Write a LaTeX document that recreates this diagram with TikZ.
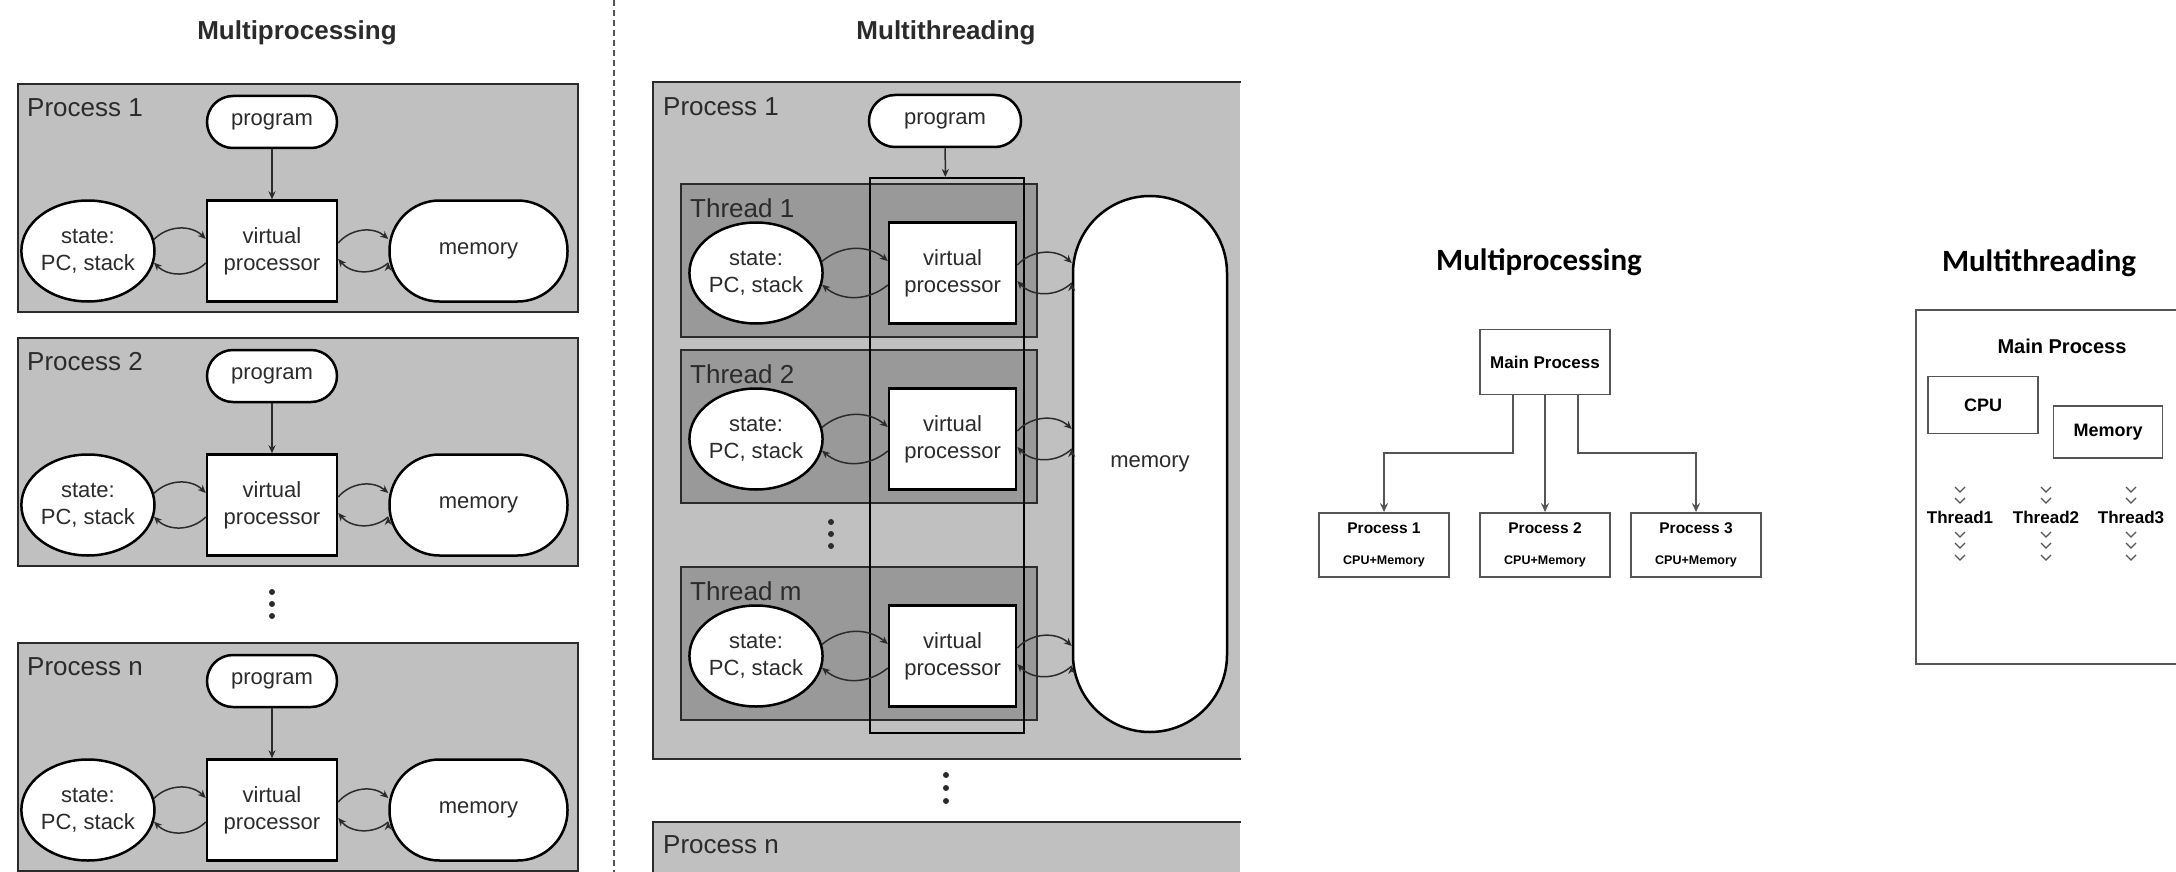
\documentclass[tikz,border=0pt]{standalone}
\usepackage{fontspec}
\setmainfont{Liberation Sans}
\newfontfamily\carlito{Carlito}
\usetikzlibrary{arrows.meta,positioning,shapes.geometric}

\definecolor{procgray}{HTML}{C0C0C0}
\definecolor{threadgray}{HTML}{999999}
\definecolor{ink}{HTML}{2B2B2B}
\definecolor{rline}{HTML}{555555}

\begin{document}
\begin{tikzpicture}[x=1pt,y=-1pt,>={Stealth[length=8pt,width=7pt]},
    heading/.style={font=\bfseries\fontsize{26}{30}\selectfont,text=ink},
    pbox/.style={fill=procgray,draw=ink,line width=2pt,anchor=north west,inner sep=0pt},
    tbox/.style={fill=threadgray,draw=ink,line width=2pt,anchor=north west,inner sep=0pt,
      minimum width=356pt,minimum height=153pt},
    plabel/.style={anchor=west,inner sep=0pt,text=ink,font=\fontsize{26}{30}\selectfont},
    blob/.style={fill=white,draw=black,line width=2.5pt,text=ink,align=center,inner sep=0pt,
      font=\fontsize{22}{27}\selectfont},
    prog/.style={blob,rounded corners=26pt,minimum width=130pt,minimum height=52pt},
    vproc/.style={blob,minimum width=130pt,minimum height=101pt},
    stnode/.style={blob,ellipse,minimum width=126pt,minimum height=101pt},
    mem/.style={blob,rounded corners=50pt,minimum width=178pt,minimum height=101pt},
    flow/.style={->,line width=1.5pt,draw=ink},
    rtitle/.style={font=\carlito\bfseries\fontsize{31}{36}\selectfont},
    rbox/.style={draw=rline,line width=1.8pt,align=center,inner sep=0pt,
      font=\bfseries\fontsize{18}{22}\selectfont},
    rtext/.style={inner sep=0pt,font=\bfseries\fontsize{17}{20}\selectfont},
    rarr/.style={-{Stealth[length=9pt,width=8pt]},draw=rline,line width=1.6pt},
    chev/.style={draw=rline,line width=1.3pt}]
  \useasboundingbox (0,0) rectangle (2176,872);

  % multiprocessing, one block per process
  \node[heading] at (297,33) {Multiprocessing};
  \foreach \i/\y in {1/83,2/337,n/642}{
    \node[pbox,minimum width=560pt,minimum height=228pt] (box\i) at (17,\y) {};
    \node[plabel] at (27,\y+25) {Process \i};
    \node[prog]   (prog\i) at (272,\y+39)         {program};
    \node[vproc]  (vp\i)  [below=50pt of prog\i] {virtual\\processor};
    \node[stnode] (st\i)  [left=50pt of vp\i]    {state:\\PC, stack};
    \node[mem]    (mem\i) [right=50pt of vp\i]   {memory};
    \path[flow] (prog\i) edge (vp\i)
      (st\i.10) edge[bend left=45] ([yshift=12pt]vp\i.west)
      ([yshift=-12pt]vp\i.west) edge[bend left=45] (st\i.-10)
      ([yshift=8pt]vp\i.east) edge[bend left=45] ([yshift=12pt]mem\i.west)
      ([yshift=-12pt]mem\i.west) edge[bend left=45] ([yshift=-8pt]vp\i.east);
  }
  \foreach \d in {592,604,616} \fill[ink] (272,\d) circle (3pt);

  \draw[ink!80,line width=2pt,dash pattern=on 6pt off 4pt] (614,0) -- (614,872);

  % multithreading
  \node[heading] at (946,33) {Multithreading};
  \node[pbox,draw=none,minimum width=586pt,minimum height=675pt] (mtp1) at (653,82) {};
  \draw[ink,line width=2pt] (mtp1.north east) -- (mtp1.north west) -- (mtp1.south west) -- (mtp1.south east);
  \node[plabel] at (663,107) {Process 1};
  \node[prog,minimum width=152pt] (prog) at (945,121) {program};
  \foreach \i/\y in {1/183,2/349,m/566}{
    \node[tbox] (th\i) at (680,\y) {};
    \node[plabel] at (690,\y+25) {Thread \i};
    \node[stnode] (tst\i) at (756,\y+90) {state:\\PC, stack};
    \node[vproc,minimum width=127pt] (tvp\i) [right=64pt of tst\i] {virtual\\processor};
  }
  \node[draw=black,line width=2pt,anchor=north west,inner sep=0pt,
    minimum width=154pt,minimum height=555pt] (col) at (869,177) {};
  \node[blob,rounded corners=77pt,minimum width=154pt,minimum height=536pt] (tmem) at (1150,464) {memory};
  \path[flow] (prog) edge (col);
  \foreach \i in {1,2,m}
    \path[flow] (tst\i.10) edge[bend left=40] ([yshift=12pt]tvp\i.west)
      ([yshift=-12pt]tvp\i.west) edge[bend left=40] (tst\i.-10)
      ([yshift=8pt]tvp\i.east) edge[bend left=45] ([yshift=10pt]tvp\i.east -| tmem.west)
      ([yshift=-10pt]tvp\i.east -| tmem.west) edge[bend left=45] ([yshift=-8pt]tvp\i.east);
  \foreach \d in {522,534,546} \fill[ink] (831,\d) circle (3pt);
  \foreach \d in {775,788,801} \fill[ink] (946,\d) circle (3pt);
  \node[pbox,draw=none,minimum width=586pt,minimum height=60pt] (mtpn) at (653,822) {};
  \draw[ink,line width=2pt] (mtpn.south west) -- (mtpn.north west) -- (mtpn.north east);
  \node[plabel] at (663,845) {Process n};

  % simple tree on the right
  \node[rtitle] at (1539,262) {Multiprocessing};
  \node[rbox,minimum width=130pt,minimum height=65pt,font=\bfseries\fontsize{17}{20}\selectfont]
    (main) at (1545,362) {Main Process};
  \foreach \i/\x in {1/1384,2/1545,3/1696}
    \node[rbox,minimum width=130pt,minimum height=64pt,font=\bfseries\fontsize{15.5}{31}\selectfont]
      (mp\i) at (\x,545) {Process \i\\{\fontsize{12.5}{31}\selectfont CPU+Memory}};
  \draw[rarr] ([xshift=-32pt]main.south) |- ([yshift=59pt]mp1.north) -- (mp1);
  \draw[rarr] (main) -- (mp2);
  \draw[rarr] ([xshift=33pt]main.south) |- ([yshift=59pt]mp3.north) -- (mp3);

  \node[rtitle] at (2039,263) {Multithreading};
  \node[rbox,anchor=north west,minimum width=290pt,minimum height=354pt] (outer) at (1915,309) {};
  \node[rtext,font=\bfseries\fontsize{20}{24}\selectfont] (mainlbl) at (2062,346) {Main Process};
  \node[rbox,minimum width=110pt,minimum height=57pt] (cpu) at (1983,405) {CPU};
  \node[rbox,minimum width=109pt,minimum height=52pt] (memry) at (2108,432) {Memory};
  \foreach \i/\x in {1/1960,2/2046,3/2131}{
    \node[rtext] (thr\i) at (\x,517) {Thread\i};
    \foreach \c in {487,498,532,543,555}
      \draw[chev] (\x-5,\c) -- (\x,\c+5) -- (\x+5,\c);
  }
\end{tikzpicture}
\end{document}
